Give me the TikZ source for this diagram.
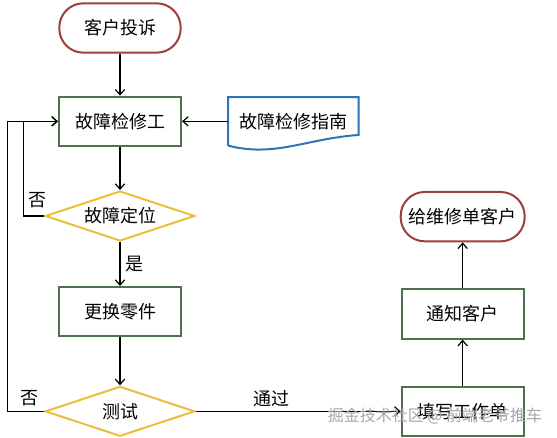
\documentclass[tikz,border=0pt]{standalone}
\usepackage{fontspec}
\newfontfamily\cjk{Noto Sans CJK SC}
\usepackage{tikz}
\usetikzlibrary{positioning, arrows.meta, shapes.geometric}
\definecolor{termred}{RGB}{158,62,62}
\definecolor{procgreen}{RGB}{80,112,80}
\definecolor{decyellow}{RGB}{232,190,58}
\definecolor{docblue}{RGB}{46,117,182}

\begin{document}
\begin{tikzpicture}[
    x=0.75pt, y=-0.75pt,
    font=\cjk\fontsize{13.5}{16}\selectfont,
    terminal/.style={draw=termred, line width=1.5pt, rounded corners=18pt, minimum width=91pt, minimum height=37pt},
    process/.style={draw=procgreen, line width=1.5pt, minimum width=91.5pt, minimum height=37pt},
    decision/.style={diamond, aspect=3, draw=decyellow, line width=1.5pt, minimum width=112pt, minimum height=37.5pt, inner sep=0pt},
    docnode/.style={minimum width=97.5pt, minimum height=36pt},
    arrow/.style={-{Straight Barb[length=4pt,width=7pt]}, line width=0.9pt}
]
\useasboundingbox (0,0) rectangle (557,438);

\node[terminal] (start) at (120,28) {客户投诉};
\node[process, below=31.5pt of start] (repair) {故障检修工};
\node[docnode, right=34.5pt of repair] (guide) {故障检修指南};
\node[decision, below=32.25pt of repair] (locate) {故障定位};
\node[process, below=33pt of locate] (replace) {更换零件};
\node[decision, below=36pt of replace] (test) {测试};
\node[process, right=153.75pt of test] (fill) {填写工作单};
\node[process, above=34.5pt of fill] (notify) {通知客户};
\node[terminal, above=34.5pt of notify, minimum width=93pt] (give) {给维修单客户};

% document outline with wavy bottom
\draw[docblue, line width=1.5pt] (guide.south west) -- (guide.north west) -- (guide.north east)
    -- ([yshift=8pt]guide.south east) .. controls +(-40pt,-3pt) and +(35pt,-9pt) .. (guide.south west);

\draw[arrow] (start) -- (repair);
\draw[arrow] (guide) -- (repair);
\draw[arrow] (repair) -- (locate);
\draw[arrow] (locate) -- node[right] (yes) {是} (replace);
\draw[arrow] (replace) -- (test);
\draw[arrow] (locate.west) -- node[pos=0.33, above, yshift=2pt] (no1) {否} ++(-15.75pt,0) |- (repair.west);
\draw[arrow] (test.west) -- node[pos=0.4, above] (no2) {否} ++(-27.75pt,0) |- (repair.west);
\draw[arrow] (test) -- node[pos=0.37, above] (pass) {通过} (fill);
\draw[arrow] (fill) -- (notify);
\draw[arrow] (notify) -- (give);

\node[text=gray!70, font=\cjk\fontsize{12}{14}\selectfont] (mark) at (435,416) {掘金技术社区 @ 前端老爷推车};
\end{tikzpicture}
\end{document}
